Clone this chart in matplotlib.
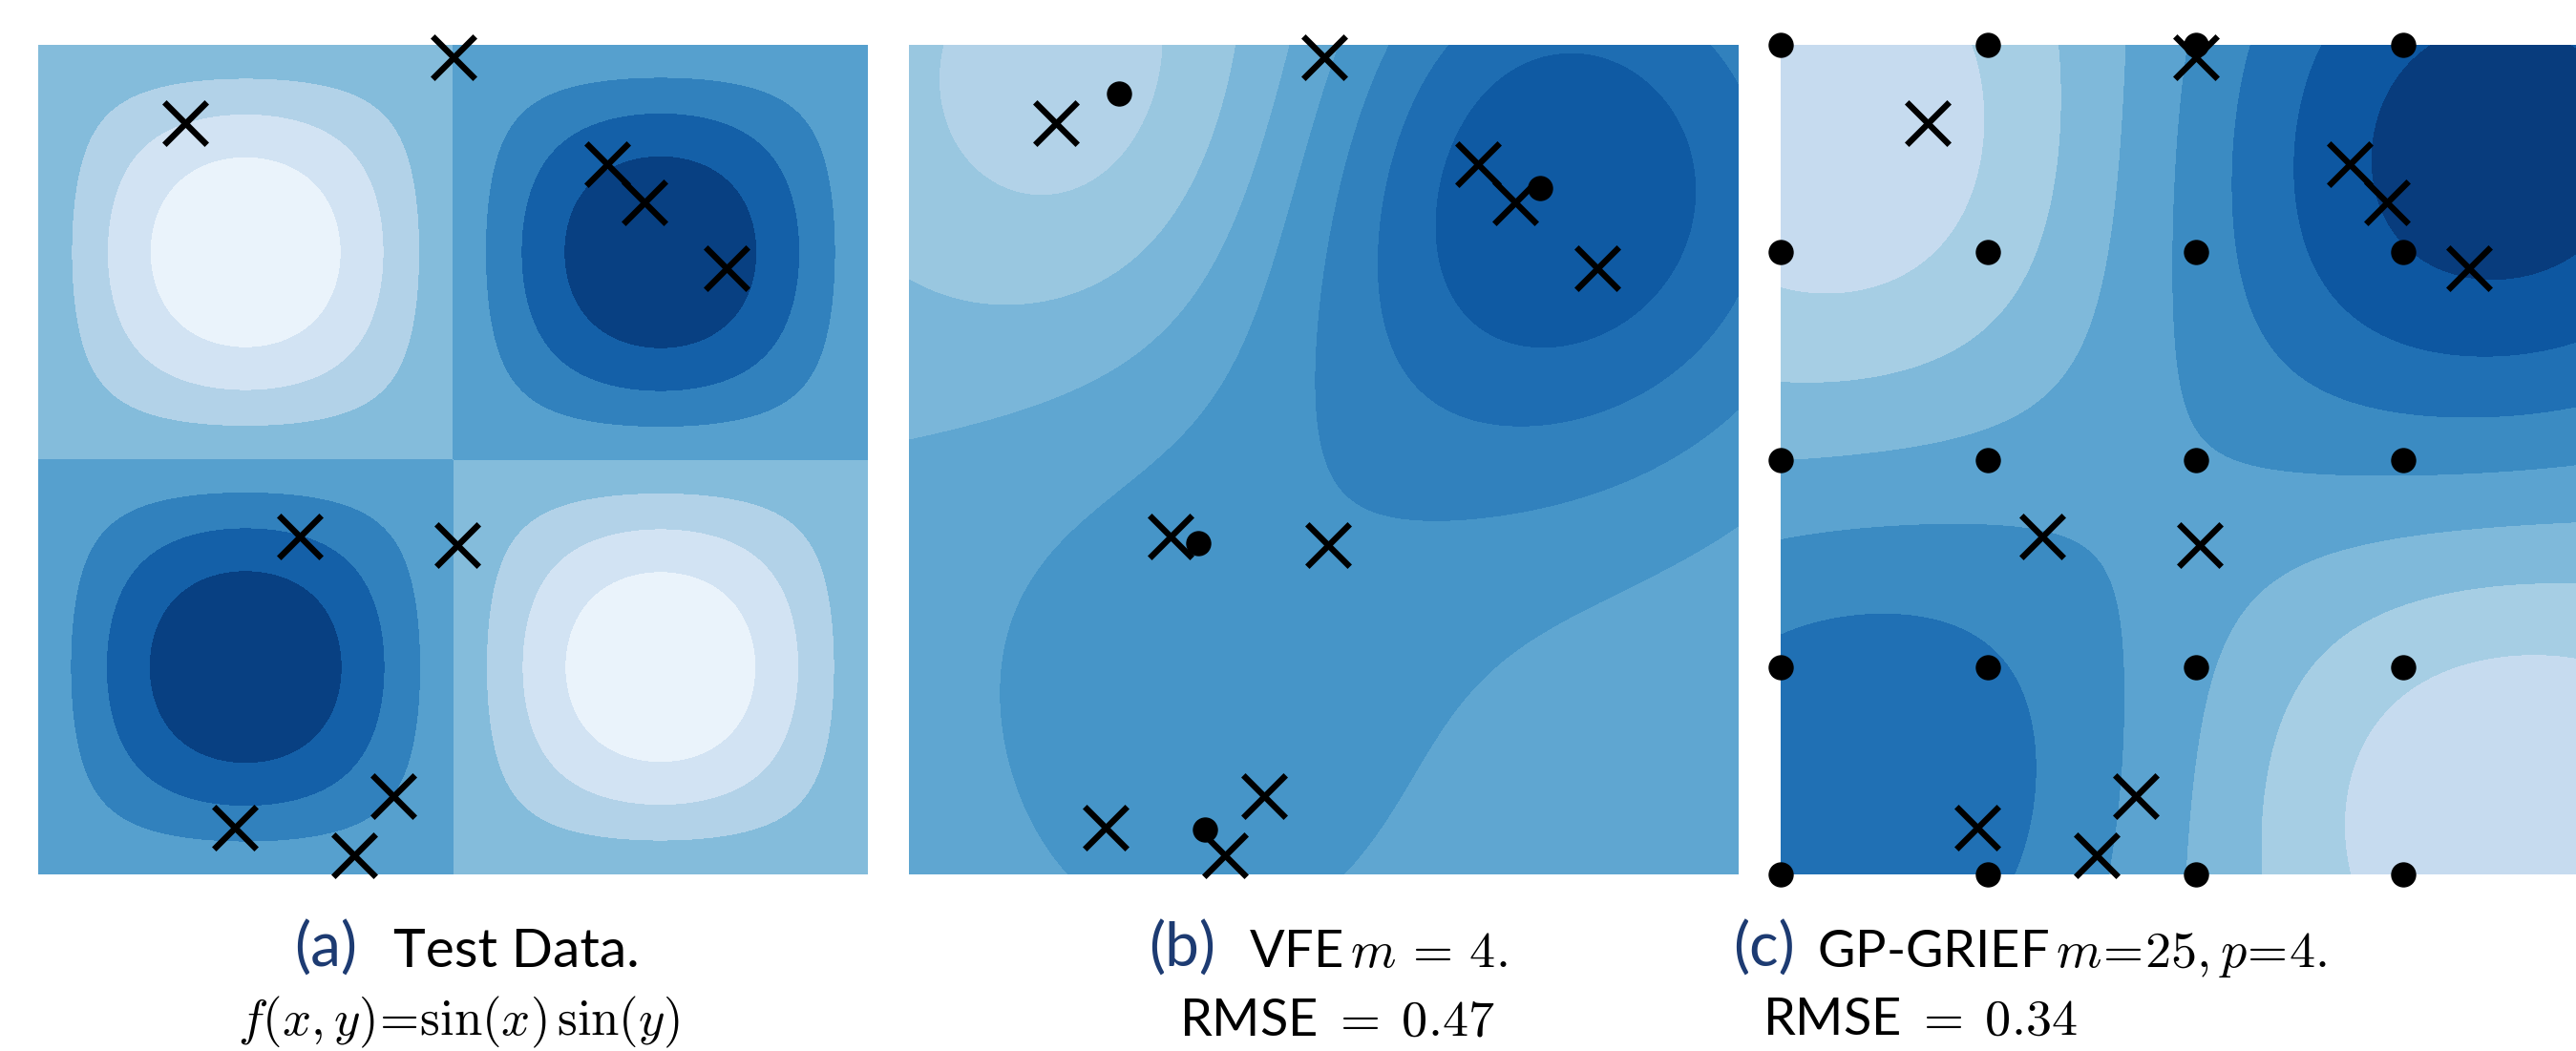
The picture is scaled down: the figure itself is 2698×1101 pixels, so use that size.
import numpy as np
import matplotlib.pyplot as plt
from matplotlib.colors import Normalize

plt.rcParams['mathtext.fontset'] = 'cm'
plt.rcParams['font.family'] = ['Lato', 'DejaVu Sans']

# training inputs (black crosses), the same ten points in every panel
train_x = [0.00, -2.03, 1.17, 1.45, 2.07, -1.16, 0.03, -0.45, -1.65, -0.75]
train_y = [3.05, 2.55, 2.24, 1.95, 1.45, -0.58, -0.65, -2.55, -2.79, -3.00]

# inducing points of the VFE model (panel b)
vfe_zx = [-1.55, 1.64, -0.95, -0.90]
vfe_zy = [2.77, 2.06, -0.63, -2.80]

# 5 x 5 inducing grid of GP-GRIEF (panel c), per axis
grief_u = [-3.1416, -1.5708, 0.0, 1.5708, 3.1416]
grief_p = 4

# contour levels of each panel (colour scale shared over [-1, 1])
levels_a = [-1.0, -0.75, -0.5, -0.25, 0.0, 0.25, 0.5, 0.75, 1.0]
levels_b = [-0.45, -0.3, -0.15, 0.0, 0.15, 0.3, 0.45, 0.6, 0.75]
levels_c = [-0.6, -0.4, -0.2, 0.0, 0.2, 0.4, 0.6, 0.8, 1.0]

# model settings (lengthscale, noise / signal ratio)
ls_b, ratio_b = 1.6, 0.4
ls_c, ratio_c = 1.5, 0.005


def rbf(a, b, ls):
    a = np.asarray(a, float)[:, None]
    b = np.asarray(b, float)[None, :]
    return np.exp(-0.5 * (a - b) ** 2 / ls ** 2)


def rbf2(xa, ya, xb, yb, ls):
    return rbf(xa, xb, ls) * rbf(ya, yb, ls)


X = np.array(train_x)
Y = np.array(train_y)
t = np.sin(X) * np.sin(Y)

g = np.linspace(-np.pi, np.pi, 300)
GX, GY = np.meshgrid(g, g)
gx, gy = GX.ravel(), GY.ravel()

# (a) true function
Fa = np.sin(GX) * np.sin(GY)

# (b) VFE predictive mean with 4 inducing points
Kuu = rbf2(vfe_zx, vfe_zy, vfe_zx, vfe_zy, ls_b) + 1e-8 * np.eye(len(vfe_zx))
Kuf = rbf2(vfe_zx, vfe_zy, X, Y, ls_b)
alpha = np.linalg.solve(ratio_b * Kuu + Kuf @ Kuf.T, Kuf @ t)
Fb = (rbf2(gx, gy, vfe_zx, vfe_zy, ls_b) @ alpha).reshape(GX.shape)

# (c) GP-GRIEF: top-p Kronecker eigenfunctions of the grid kernel
lam, Q = np.linalg.eigh(rbf(grief_u, grief_u, ls_c) + 1e-8 * np.eye(len(grief_u)))
lam, Q = lam[::-1], Q[:, ::-1]
pairs = sorted(((lam[i] * lam[j], i, j) for i in range(len(lam)) for j in range(len(lam))),
               key=lambda v: -v[0])[:grief_p]


def feats(x, y):
    kx = rbf(x, grief_u, ls_c) @ Q
    ky = rbf(y, grief_u, ls_c) @ Q
    return np.column_stack([kx[:, i] * ky[:, j] / np.sqrt(l) for l, i, j in pairs])


Psi = feats(X, Y)
w = np.linalg.solve(Psi.T @ Psi + ratio_c * np.eye(grief_p), Psi.T @ t)
Fc = (feats(gx, gy) @ w).reshape(GX.shape)

W, H = 2698, 1101
fig = plt.figure(figsize=(W / 100, H / 100), dpi=100)
norm = Normalize(-1, 1)

panels = [
    (40, Fa, levels_a, None),
    (952, Fb, levels_b, (vfe_zx, vfe_zy)),
    (1865, Fc, levels_c, (np.repeat(grief_u, 5), np.tile(grief_u, 5))),
]
for left, F, lv, ind in panels:
    ax = fig.add_axes([left / W, 1 - 916 / H, 869 / W, 869 / H])
    ax.contourf(GX, GY, np.clip(F, lv[0], lv[-1]), levels=lv, cmap='Blues', norm=norm)
    if ind is not None:
        ax.scatter(ind[0], ind[1], s=18 ** 2, c='k', clip_on=False, zorder=3)
    ax.scatter(train_x, train_y, marker='x', s=32 ** 2, c='k', linewidths=4.6,
               clip_on=False, zorder=4)
    ax.set_xlim(-np.pi, np.pi)
    ax.set_ylim(-np.pi, np.pi)
    ax.axis('off')

# captions
navy = '#1d3b72'
fs = 39
fs_lab = 46
y1 = 1 - 1013 / H
y2 = 1 - 1084 / H
fig.text(308 / W, y1, '(a)', color=navy, fontsize=fs_lab, va='baseline')
fig.text(412 / W, y1, 'Test Data.', fontsize=fs + 2, va='baseline')
fig.text(480 / W, y2, r'$f(x,y)\!=\!\sin(x)\,\sin(y)$', fontsize=38, va='baseline', ha='center')

fig.text(1203 / W, y1, '(b)', color=navy, fontsize=fs_lab, va='baseline')
fig.text(1308 / W, y1, r'VFE$\,m\,=\,4.$', fontsize=fs, va='baseline')
fig.text(1235 / W, y2, r'RMSE $=\;0.47$', fontsize=fs, va='baseline')

fig.text(1815 / W, y1, '(c)', color=navy, fontsize=fs_lab, va='baseline')
fig.text(1903 / W, y1, r'GP-GRIEF$\,m\!=\!25, p\!=\!4.$', fontsize=fs, va='baseline')
fig.text(1846 / W, y2, r'RMSE $=\;0.34$', fontsize=fs, va='baseline')

fig.savefig('out.png', dpi=100)
